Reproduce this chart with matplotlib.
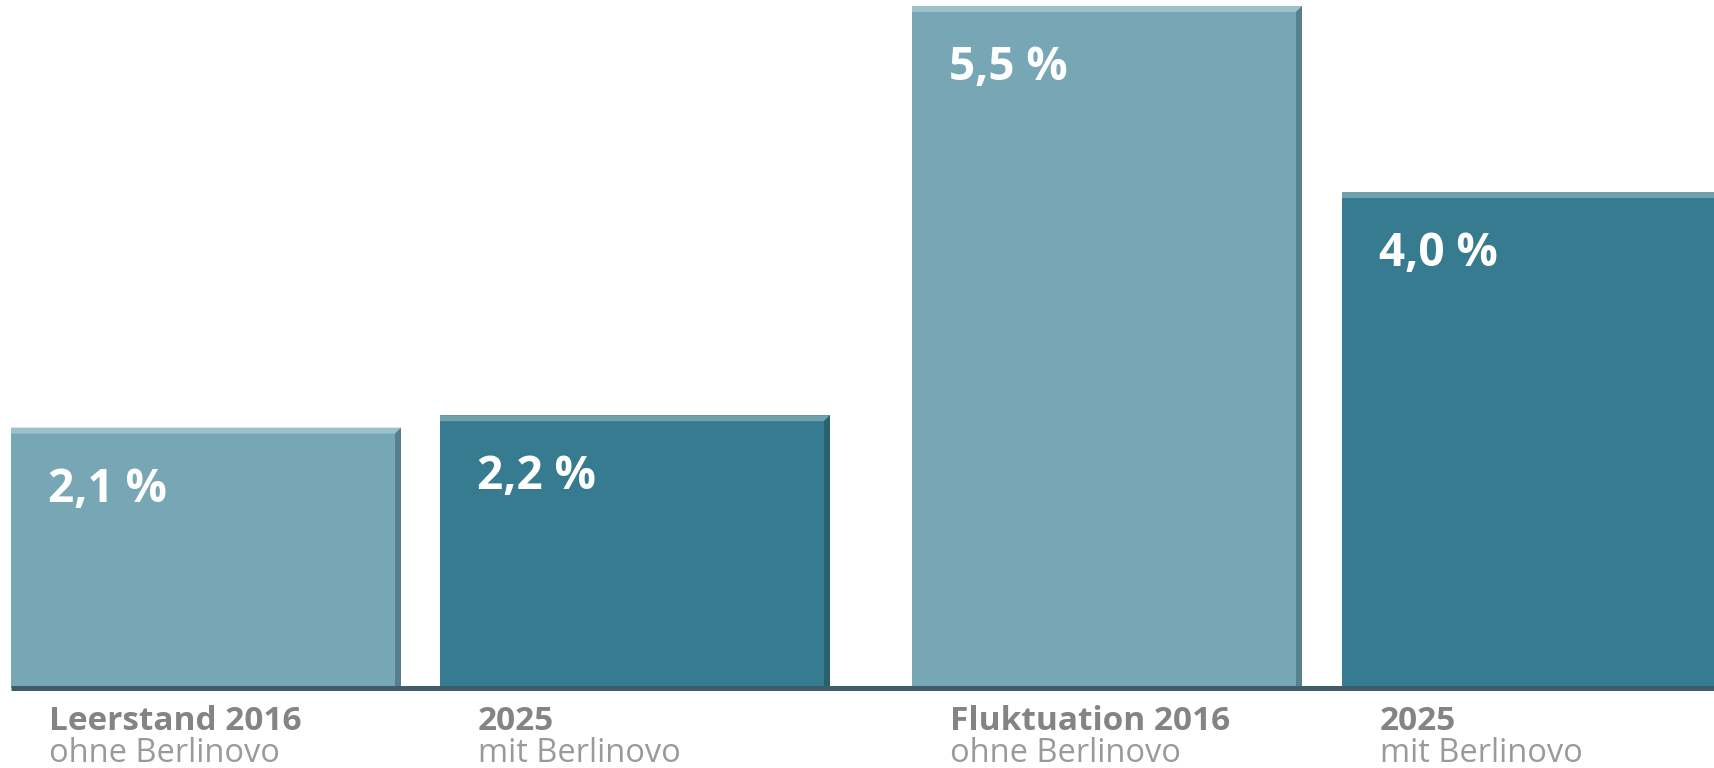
import matplotlib
matplotlib.use("Agg")
import matplotlib.pyplot as plt
from matplotlib.patches import Polygon

# Leerstand / Fluktuation, 2016 ohne vs. 2025 mit Berlinovo
categories = ["Leerstand 2016", "2025", "Fluktuation 2016", "2025"]
subtitles = ["ohne Berlinovo", "mit Berlinovo", "ohne Berlinovo", "mit Berlinovo"]
values = [2.1, 2.2, 5.5, 4.0]

light = "#77a7b5"
dark = "#367b8f"
colors = [light, dark, light, dark]
side_colors = ["#56808c", "#2a6070", "#56808c", "#2a6070"]
top_colors = ["#9cc1ca", "#6fa0ad", "#9cc1ca", "#6fa0ad"]

W, H = 1714, 768
px_per_unit = 124.0
zero_px = 688  # distance of the baseline from the top edge

fig = plt.figure(figsize=(W / 100, H / 100), dpi=100)
ax = fig.add_axes([0, 0, 1, 1])
ax.set_xlim(0, W)
ax.set_ylim(-(H - zero_px) / px_per_unit, zero_px / px_per_unit)
ax.axis("off")

lefts = [11, 440, 912, 1342]
bar_w = 390
u = 1.0 / px_per_unit  # one pixel in data units

for x0, v, c, sc, tc in zip(lefts, values, colors, side_colors, top_colors):
    ax.bar(x0, v, width=bar_w, align="edge", color=c, linewidth=0, zorder=2)
    # bevel: lighter top edge, darker right side
    ax.add_patch(Polygon([(x0, v), (x0 + bar_w, v), (x0 + bar_w - 6, v - 6 * u),
                          (x0, v - 6 * u)], closed=True, color=tc, lw=0, zorder=3))
    ax.add_patch(Polygon([(x0 + bar_w - 6, v - 6 * u), (x0 + bar_w, v), (x0 + bar_w, 0),
                          (x0 + bar_w - 6, 0)], closed=True, color=sc, lw=0, zorder=3))

# baseline
ax.plot([11, W], [0, 0], color="#3e5d69", lw=5 * 72 / 100, solid_capstyle="butt", zorder=4)

for x0, v, cat, sub in zip(lefts, values, categories, subtitles):
    label = f"{v:.1f}".replace(".", ",") + " %"
    ax.annotate(label, (x0, v), xytext=(37, -74), textcoords="offset pixels",
                ha="left", va="baseline", color="white", fontsize=33,
                fontweight="bold", family="Open Sans", zorder=5)
    ax.annotate(cat, (x0, 0), xytext=(38, -42), textcoords="offset pixels",
                ha="left", va="baseline", color="#848484", fontsize=24,
                fontweight="bold", family="Open Sans")
    ax.annotate(sub, (x0, 0), xytext=(38, -74), textcoords="offset pixels",
                ha="left", va="baseline", color="#9a9a9a", fontsize=23.5,
                family="Open Sans")

fig.savefig("out.png", dpi=100)
